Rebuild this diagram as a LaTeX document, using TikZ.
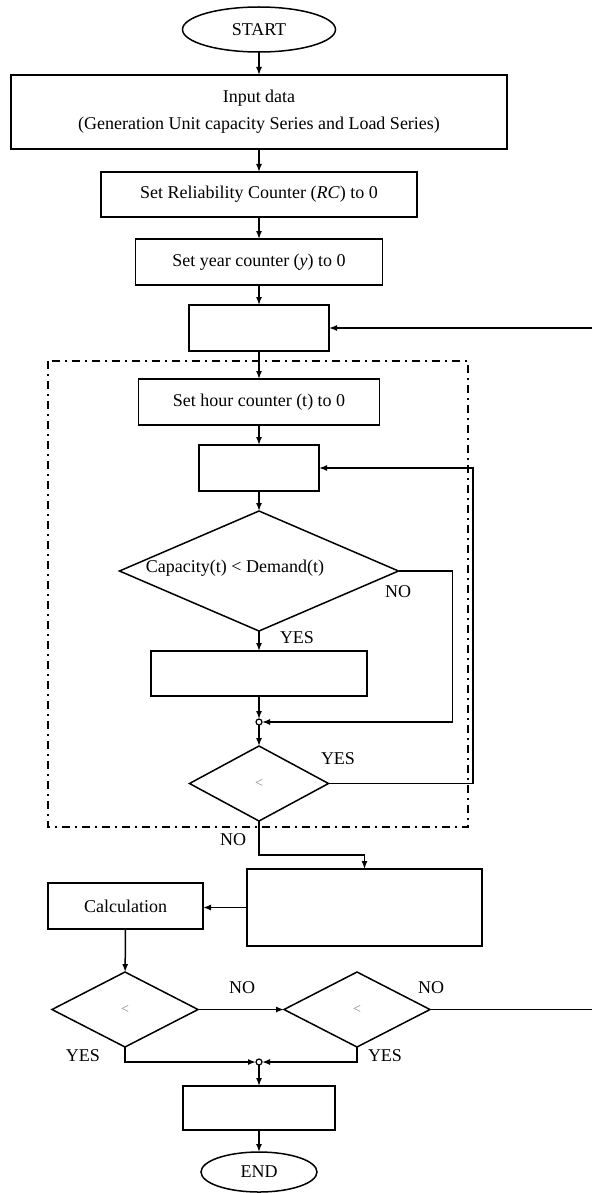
\documentclass[tikz,border=0pt]{standalone}
\usepackage{fontspec}
\setmainfont{Liberation Serif}
\usetikzlibrary{shapes.geometric, arrows.meta, positioning, calc}

\begin{document}
\begin{tikzpicture}[
  x=1pt, y=1pt,
  node distance=21pt,
  font=\fontsize{18}{27}\selectfont,
  box/.style={rectangle, draw, line width=1.5pt, inner sep=2pt, outer sep=0pt, align=center},
  term/.style={ellipse, draw, line width=1.5pt, inner sep=0pt, outer sep=0pt},
  decision/.style={diamond, draw, line width=1.5pt, inner sep=0pt, outer sep=0pt, aspect=2},
  junc/.style={circle, draw, line width=1.2pt, fill=white, inner sep=0pt, outer sep=0pt, minimum size=6pt},
  lbl/.style={inner sep=0pt},
  lt/.style={text=gray, font=\fontsize{14}{16}\selectfont},
  arrow/.style={-{Latex[length=8pt,width=6pt]}, line width=1.5pt},
  line/.style={line width=1.5pt},
  frame/.style={line width=1.5pt, dash pattern=on 8pt off 5pt on 2pt off 5pt}
]
\useasboundingbox (0,0) rectangle (592,-1193);

% main column
\node (start) [term, minimum width=153pt, minimum height=45pt] at (259,-29.5) {START};
\node (input) [box, below=23pt of start, minimum width=496pt, minimum height=74pt] {Input data\\(Generation Unit capacity Series and Load Series)};
\node (rc) [box, below=23pt of input, minimum width=316pt, minimum height=45pt] {Set Reliability Counter (\textit{RC}) to 0};
\node (year) [box, below=22pt of rc, minimum width=247pt, minimum height=46pt] {Set year counter (\textit{y}) to 0};
\node (yrloop) [box, below=20pt of year, minimum width=140pt, minimum height=46pt] {};
\node (hour) [box, below=28pt of yrloop, minimum width=241pt, minimum height=46pt] {Set hour counter (t) to 0};
\node (hrloop) [box, below=20pt of hour, minimum width=120pt, minimum height=46pt] {};
\node (cmp) [decision, below=20pt of hrloop, minimum width=279pt, minimum height=120pt] {};
\node (cmptxt) [lbl] at ([xshift=-24pt,yshift=3pt]cmp.center) {Capacity(t) < Demand(t)};
\node (count) [box, below=20pt of cmp, minimum width=216pt, minimum height=45pt] {};
\node (j1) [junc, below=23pt of count] {};
\node (hrend) [decision, below=21pt of j1, minimum width=139pt, minimum height=75pt, lt] {<};

% dashed frame round the hour loop
\draw[frame] (48,-361) rectangle (468,-827);

% lower part
\node (index) [box, minimum width=235pt, minimum height=77pt] at (364.5,-907.5) {};
\node (calc) [box, minimum width=155pt, minimum height=46pt] at (125.5,-906) {Calculation};
\node (chk1) [decision, minimum width=146pt, minimum height=75pt, lt] at (125,-1009.5) {<};
\node (chk2) [decision, minimum width=146pt, minimum height=75pt, lt] at (357,-1009.5) {<};
\node (j2) [junc] at (259,-1062) {};
\node (result) [box, minimum width=152pt, minimum height=44pt] at (259,-1108) {};
\node (end) [term, below=22pt of result, minimum width=116pt, minimum height=40pt] {END};

\coordinate (fbin) at ($(yrloop.east)+(263,0)$);
\coordinate (fbout) at (592,-1009.5);

% labels
\node (no1) [lbl] at (398,-592) {NO};
\node (yes1) [lbl] at (297,-638) {YES};
\node (yes2) [lbl] at (338,-759) {YES};
\node (no2) [lbl] at (233,-840) {NO};
\node (no3) [lbl] at (242,-988) {NO};
\node (no4) [lbl] at (431,-988) {NO};
\node (yes3) [lbl] at (83,-1056) {YES};
\node (yes4) [lbl] at (385,-1056) {YES};

% connectors
\draw [arrow] (start) -- (input);
\draw [arrow] (input) -- (rc);
\draw [arrow] (rc) -- (year);
\draw [arrow] (year) -- (yrloop);
\draw [arrow] (fbin) -- (yrloop.east);
\draw [arrow] (yrloop) -- (hour);
\draw [arrow] (hour) -- (hrloop);
\draw [arrow] (hrloop) -- (cmp);
\draw [arrow] (cmp) -- (count);
\draw [arrow] (count) -- (j1);
\draw [arrow] (cmp.east) -- ++(54,0) |- (j1);
\draw [arrow] (j1) -- (hrend);
\draw [arrow] (hrend.east) -- ++(144.5,0) |- (hrloop.east);
\draw [arrow] (hrend.south) -- ++(0,-34) -| (index.north);
\draw [arrow] (index.west) -- (index.west -| calc.east);
\draw [arrow] (calc) -- (chk1);
\draw [arrow] (chk1.east) -- (chk2.west);
\draw [line] (chk2.east) -- (fbout);
\draw [arrow] (chk1.south) |- (j2);
\draw [arrow] (chk2.south) |- (j2);
\draw [arrow] (j2) -- (result);
\draw [arrow] (result) -- (end);

\end{tikzpicture}
\end{document}
